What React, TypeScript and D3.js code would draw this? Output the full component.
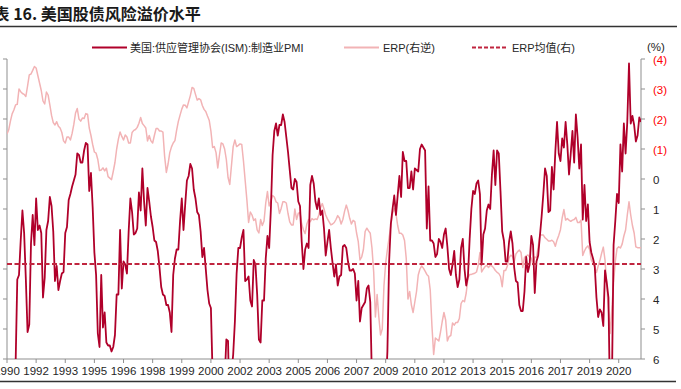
import React from 'react';
import * as d3 from 'd3';

// ---------- DATA (monthly, Dec 1990 - Oct 2021) ----------
// US ISM manufacturing PMI (left axis)
const pmi1990 = [40.8];
const pmi1991 = [39.2, 39.4, 40.7, 42.8, 44.5, 50.3, 50.6, 52.9, 54.9, 53.4, 50.3, 46.8];
const pmi1992 = [47.3, 52.7, 54.6, 52.6, 55.7, 53.6, 53.9, 53.4, 49.1, 50.4, 53.6, 54.2];
const pmi1993 = [55.8, 55.2, 53.5, 50.2, 51.2, 49.6, 50.2, 50.7, 50.8, 53.4, 53.8, 55.6];
const pmi1994 = [56.0, 56.5, 56.9, 57.3, 58.7, 58.6, 58.1, 58.1, 58.9, 59.4, 59.3, 56.2];
const pmi1995 = [57.4, 55.1, 52.1, 50.6, 46.7, 45.8, 50.6, 47.1, 48.1, 46.1, 45.9, 45.9];
const pmi1996 = [45.5, 45.8, 46.6, 49.3, 49.3, 53.6, 49.7, 51.5, 51.3, 50.7, 53.5, 55.7];
const pmi1997 = [54.8, 53.3, 53.4, 53.7, 56.1, 54.9, 57.7, 55.5, 53.9, 56.4, 55.5, 54.5];
const pmi1998 = [53.8, 52.9, 52.8, 52.2, 51.1, 49.8, 49.3, 49.2, 48.6, 48.6, 48.1, 46.8];
const pmi1999 = [50.6, 51.7, 52.3, 52.3, 54.2, 55.7, 53.6, 55.3, 56.9, 57.2, 58.0, 57.7];
const pmi2000 = [56.3, 55.7, 54.8, 54.6, 53.5, 51.8, 52.4, 51.0, 49.6, 48.7, 48.4, 43.9];
const pmi2001 = [42.3, 41.9, 43.1, 42.7, 41.3, 43.2, 43.5, 46.3, 46.2, 40.8, 44.1, 45.3];
const pmi2002 = [47.5, 50.7, 52.4, 52.4, 53.1, 53.6, 50.2, 50.3, 50.5, 48.9, 48.5, 51.6];
const pmi2003 = [51.3, 49.3, 46.3, 46.1, 48.9, 48.9, 51.7, 53.2, 52.4, 55.0, 58.6, 60.2];
const pmi2004 = [60.7, 59.9, 60.6, 60.6, 61.3, 60.8, 59.8, 58.8, 57.6, 56.4, 56.3, 57.0];
const pmi2005 = [56.8, 55.5, 55.2, 52.8, 51.0, 52.3, 52.7, 52.4, 56.6, 57.2, 56.7, 55.5];
const pmi2006 = [55.0, 55.7, 54.6, 54.9, 53.7, 51.9, 52.8, 53.6, 52.4, 51.4, 50.5, 51.3];
const pmi2007 = [49.9, 50.5, 50.6, 52.5, 52.6, 52.4, 51.5, 50.9, 50.9, 51.0, 50.7, 48.9];
const pmi2008 = [50.2, 47.5, 48.4, 48.6, 48.8, 49.7, 49.9, 48.8, 43.5, 38.9, 36.5, 33.1];
const pmi2009 = [35.6, 35.8, 36.3, 40.1, 42.8, 45.5, 51.5, 54.0, 55.0, 55.9, 54.6, 55.9];
const pmi2010 = [57.2, 55.8, 58.8, 58.2, 58.2, 56.4, 56.4, 57.5, 56.3, 57.7, 57.6, 57.5];
const pmi2011 = [59.0, 59.3, 59.1, 58.9, 53.7, 56.5, 52.9, 52.9, 52.7, 51.8, 52.0, 53.0];
const pmi2012 = [52.8, 52.4, 53.3, 53.7, 52.5, 51.0, 50.6, 51.3, 52.2, 50.6, 49.8, 50.3];
const pmi2013 = [52.4, 53.0, 51.0, 49.9, 50.5, 53.0, 55.0, 56.2, 56.0, 56.7, 56.9, 56.0];
const pmi2014 = [51.3, 53.3, 53.7, 54.9, 55.3, 55.0, 57.3, 58.9, 56.6, 58.9, 58.7, 56.2];
const pmi2015 = [53.5, 52.9, 51.5, 51.5, 52.8, 53.5, 52.7, 51.1, 50.2, 50.1, 48.6, 48.2];
const pmi2016 = [48.2, 49.5, 51.8, 50.8, 51.3, 53.2, 52.6, 49.4, 51.5, 51.9, 53.2, 54.5];
const pmi2017 = [56.0, 57.7, 57.2, 54.8, 54.9, 57.8, 56.3, 58.8, 60.8, 58.7, 58.2, 59.7];
const pmi2018 = [59.1, 60.8, 59.3, 57.3, 58.7, 60.2, 58.1, 61.3, 59.8, 57.7, 59.3, 54.3];
const pmi2019 = [56.6, 54.2, 55.3, 52.8, 52.1, 51.7, 51.2, 49.1, 47.8, 48.3, 48.1, 47.2];
const pmi2020 = [50.9, 50.1, 49.1, 41.5, 43.1, 52.6, 54.2, 56.0, 55.4, 59.3, 57.5, 60.7];
const pmi2021 = [58.7, 60.8, 64.7, 60.7, 61.2, 60.6, 59.5, 59.9, 61.1, 60.8];

// Equity risk premium, % (right axis, reversed)
const erp1990 = [-1.5];
const erp1991 = [-1.64, -1.93, -2.17, -2.3, -2.47, -2.49, -3.0, -2.91, -2.85, -2.82, -2.75, -3.1];
const erp1992 = [-3.47, -3.5, -3.62, -3.75, -3.7, -3.45, -3.2, -2.95, -2.6, -2.5, -2.9, -2.8];
const erp1993 = [-2.47, -2.12, -1.88, -1.8, -1.91, -1.76, -1.7, -1.55, -1.27, -1.2, -1.4, -1.4];
const erp1994 = [-1.3, -1.52, -1.82, -2.2, -2.35, -2.0, -1.93, -2.03, -2.02, -2.18, -2.16, -1.7];
const erp1995 = [-1.45, -1.15, -0.9, -0.86, -0.65, -0.28, -0.3, -0.37, -0.27, -0.36, -0.08, -0.03];
const erp1996 = [0.02, -0.25, -0.55, -1.0, -1.33, -1.57, -1.42, -1.3, -1.47, -1.4, -1.2, -1.2];
const erp1997 = [-1.55, -1.62, -1.65, -1.72, -1.86, -2.05, -1.85, -1.78, -1.7, -1.27, -1.45, -1.27];
const erp1998 = [-1.2, -1.45, -1.68, -1.68, -1.6, -1.6, -1.56, -0.75, -0.22, -0.5, -0.88, -1.07];
const erp1999 = [-1.2, -1.28, -1.63, -1.92, -2.13, -2.33, -2.47, -2.46, -2.37, -2.58, -2.78, -3.05];
const erp2000 = [-3.02, -2.82, -2.63, -2.68, -2.64, -2.45, -2.32, -2.25, -2.1, -1.96, -1.6, -1.05];
const erp2001 = [-1.08, -0.88, -0.37, -0.8, -1.2, -1.17, -1.0, -0.65, -0.05, 0.18, -0.45, -1.08];
const erp2002 = [-1.3, -1.08, -1.12, -1.17, -1.15, -0.6, 0.05, 0.7, 1.45, 1.1, 1.2, 1.38];
const erp2003 = [1.33, 1.7, 1.8, 1.35, 1.55, 1.4, 0.8, 0.42, 0.9, 0.73, 0.55, 0.6];
const erp2004 = [0.76, 0.8, 1.15, 0.98, 0.76, 0.76, 0.8, 1.15, 1.43, 1.53, 1.53, 1.0];
const erp2005 = [1.35, 1.14, 1.12, 1.5, 1.7, 1.82, 1.5, 1.35, 1.42, 1.32, 1.36, 1.33];
const erp2006 = [1.35, 1.2, 0.95, 0.82, 1.0, 1.2, 1.33, 1.43, 1.53, 1.5, 1.45, 1.35];
const erp2007 = [1.22, 1.3, 1.5, 1.35, 1.08, 0.87, 1.05, 1.31, 1.5, 1.38, 1.42, 1.8];
const erp2008 = [2.09, 2.7, 2.6, 2.35, 1.75, 1.64, 1.73, 1.81, 2.3, 3.1, 4.6, 3.85];
const erp2009 = [4.6, 5.2, 5.0, 3.55, 2.8, 2.35, 1.95, 1.55, 1.15, 0.98, 1.15, 1.55];
const erp2010 = [1.81, 1.81, 1.87, 2.05, 2.65, 4.0, 3.75, 4.2, 4.45, 4.1, 3.75, 3.2];
const erp2011 = [3.0, 2.9, 2.97, 3.07, 3.18, 3.24, 3.7, 4.9, 5.85, 5.3, 5.35, 5.4];
const erp2012 = [5.1, 4.75, 4.45, 4.7, 5.4, 5.25, 5.22, 4.8, 4.87, 4.78, 4.78, 4.65];
const erp2013 = [4.15, 4.05, 4.09, 3.8, 3.3, 3.18, 3.18, 3.16, 3.14, 3.1, 2.87, 2.45];
const erp2014 = [3.1, 3.0, 2.92, 2.88, 2.95, 2.88, 2.9, 2.96, 3.05, 3.11, 3.15, 3.25];
const erp2015 = [3.59, 3.05, 3.05, 2.9, 2.63, 2.54, 2.58, 2.76, 2.5, 2.42, 2.37, 2.45];
const erp2016 = [2.95, 2.62, 2.56, 2.53, 2.6, 2.64, 2.85, 2.6, 2.62, 2.25, 1.85, 1.87];
const erp2017 = [1.87, 1.96, 2.01, 2.07, 2.07, 2.04, 2.09, 2.24, 2.03, 1.88, 1.69, 1.3];
const erp2018 = [1.02, 1.37, 1.32, 1.37, 1.41, 1.37, 1.35, 1.28, 1.45, 1.45, 1.37, 2.55];
const erp2019 = [2.4, 2.29, 2.23, 2.35, 2.7, 2.81, 2.95, 3.12, 2.9, 2.72, 2.48, 2.27];
const erp2020 = [2.7, 3.55, 4.35, 5.15, 4.3, 3.45, 2.75, 2.32, 2.26, 2.3, 2.17, 1.9];
const erp2021 = [1.7, 1.2, 0.76, 1.2, 1.55, 1.8, 2.26, 2.29, 2.29, 2.29];

const erpMean = 2.83;

const rightTicks = [-4, -3, -2, -1, 0, 1, 2, 3, 4, 5, 6];
const leftTicks = [45, 47, 49, 51, 53, 55, 57, 59, 61, 63, 65];
const tickEvery = 17; // months between category-axis labels

const legendItems = [
  { label: '美国:供应管理协会(ISM):制造业PMI', kind: 'pmi' },
  { label: 'ERP(右逆)', kind: 'erp' },
  { label: 'ERP均值(右)', kind: 'mean' },
];

const titleText = '表 16. 美国股债风险溢价水平';

// ---------- BUILD ----------
const pmi = [
  ...pmi1990, ...pmi1991, ...pmi1992, ...pmi1993, ...pmi1994, ...pmi1995, ...pmi1996,
  ...pmi1997, ...pmi1998, ...pmi1999, ...pmi2000, ...pmi2001, ...pmi2002, ...pmi2003,
  ...pmi2004, ...pmi2005, ...pmi2006, ...pmi2007, ...pmi2008, ...pmi2009, ...pmi2010,
  ...pmi2011, ...pmi2012, ...pmi2013, ...pmi2014, ...pmi2015, ...pmi2016, ...pmi2017,
  ...pmi2018, ...pmi2019, ...pmi2020, ...pmi2021,
];
const erp = [
  ...erp1990, ...erp1991, ...erp1992, ...erp1993, ...erp1994, ...erp1995, ...erp1996,
  ...erp1997, ...erp1998, ...erp1999, ...erp2000, ...erp2001, ...erp2002, ...erp2003,
  ...erp2004, ...erp2005, ...erp2006, ...erp2007, ...erp2008, ...erp2009, ...erp2010,
  ...erp2011, ...erp2012, ...erp2013, ...erp2014, ...erp2015, ...erp2016, ...erp2017,
  ...erp2018, ...erp2019, ...erp2020, ...erp2021,
];

const startMonth = new Date(1990, 11, 1);
const dates = pmi.map((_, i) => d3.timeMonth.offset(startMonth, i));

const W = 681;
const H = 389;
const P = { left: 7, right: 641, top: 59, bottom: 359 };

const RED = '#B0002A';
const PINK = '#F2B3B5';
const MEAN = '#C0253F';
const AXIS = '#8F8F8F';
const TXT = '#262626';
const FONT = "'Liberation Sans', Arial, 'Noto Sans CJK SC', sans-serif";

export default function App() {
  const n = pmi.length;
  const x = d3.scaleLinear().domain([0, n - 1]).range([P.left, P.right]);
  const yL = d3.scaleLinear().domain([45, 65]).range([P.bottom, P.top]);
  const yR = d3.scaleLinear().domain([-4, 6]).range([P.top, P.bottom]);

  const pmiLine = d3.line<number>().x((_, i) => x(i)).y((d) => yL(d))(pmi) || '';
  const erpLine = d3.line<number>().x((_, i) => x(i)).y((d) => yR(d))(erp) || '';

  const xTicks = d3.range(0, n, tickEvery);
  const fmtYear = d3.timeFormat('%Y');

  const legendX = [
    { sx: 92, tx: 130 },
    { sx: 344, tx: 383 },
    { sx: 472, tx: 512 },
  ];
  const legendY = 47.5;

  return (
    <svg
      width={W}
      height={H}
      viewBox={`0 0 ${W} ${H}`}
      style={{ position: 'absolute', left: 0, top: 0, background: '#fff' }}
    >
      <defs>
        <clipPath id="plotClip">
          <rect x={P.left} y={P.top - 2} width={P.right - P.left} height={P.bottom - P.top + 2} />
        </clipPath>
      </defs>

      {/* title */}
      <text
        x={-6.5}
        y={20}
        fontFamily="'Noto Sans CJK SC', sans-serif"
        fontWeight={700}
        fontSize={16}
        fill="#1a1a1a"
      >
        {titleText}
      </text>
      <line x1={0} x2={677} y1={26.5} y2={26.5} stroke="#333" strokeWidth={1.4} />
      <line x1={0} x2={676} y1={381.5} y2={381.5} stroke="#333" strokeWidth={1.4} />

      {/* legend */}
      {legendItems.map((it, k) => (
        <g key={it.kind}>
          <line
            x1={legendX[k].sx}
            x2={legendX[k].sx + 35}
            y1={legendY}
            y2={legendY}
            stroke={it.kind === 'pmi' ? RED : it.kind === 'erp' ? PINK : MEAN}
            strokeWidth={2}
            strokeDasharray={it.kind === 'mean' ? '4,2' : undefined}
          />
          <text
            x={legendX[k].tx}
            y={legendY + 4}
            fontFamily={FONT}
            fontSize={11}
            fill={TXT}
          >
            {it.label}
          </text>
        </g>
      ))}
      <text x={647} y={51} fontFamily={FONT} fontSize={11.5} fill={TXT}>
        (%)
      </text>

      {/* axes */}
      <line x1={P.left} x2={P.left} y1={P.top} y2={P.bottom} stroke={AXIS} />
      <line x1={P.right} x2={P.right} y1={P.top} y2={P.bottom} stroke={AXIS} />
      <line x1={P.left} x2={P.right} y1={P.bottom} y2={P.bottom} stroke={AXIS} />
      {leftTicks.map((t) => (
        <line key={'l' + t} x1={P.left - 4} x2={P.left} y1={yL(t)} y2={yL(t)} stroke={AXIS} />
      ))}
      {rightTicks.map((t) => (
        <g key={'r' + t}>
          <line x1={P.right} x2={P.right + 4} y1={yR(t)} y2={yR(t)} stroke={AXIS} />
          <text
            x={653}
            y={yR(t) + 4.5}
            fontFamily={FONT}
            fontSize={11.5}
            fill={t < 0 ? '#FF0000' : TXT}
          >
            {t < 0 ? `(${-t})` : `${t}`}
          </text>
        </g>
      ))}
      {xTicks.map((i) => (
        <g key={'x' + i}>
          <line x1={x(i)} x2={x(i)} y1={P.bottom} y2={P.bottom + 4} stroke={AXIS} />
          <text
            x={x(i)}
            y={375}
            textAnchor="middle"
            fontFamily={FONT}
            fontSize={11.5}
            fill={TXT}
          >
            {fmtYear(dates[i])}
          </text>
        </g>
      ))}

      {/* series */}
      <g clipPath="url(#plotClip)">
        <path d={erpLine} fill="none" stroke={PINK} strokeWidth={1.5} strokeLinejoin="round" />
        <path d={pmiLine} fill="none" stroke={RED} strokeWidth={1.8} strokeLinejoin="round" />
        <line
          x1={P.left}
          x2={P.right}
          y1={yR(erpMean)}
          y2={yR(erpMean)}
          stroke={MEAN}
          strokeWidth={2}
          strokeDasharray="5,2.5"
        />
      </g>
    </svg>
  );
}
